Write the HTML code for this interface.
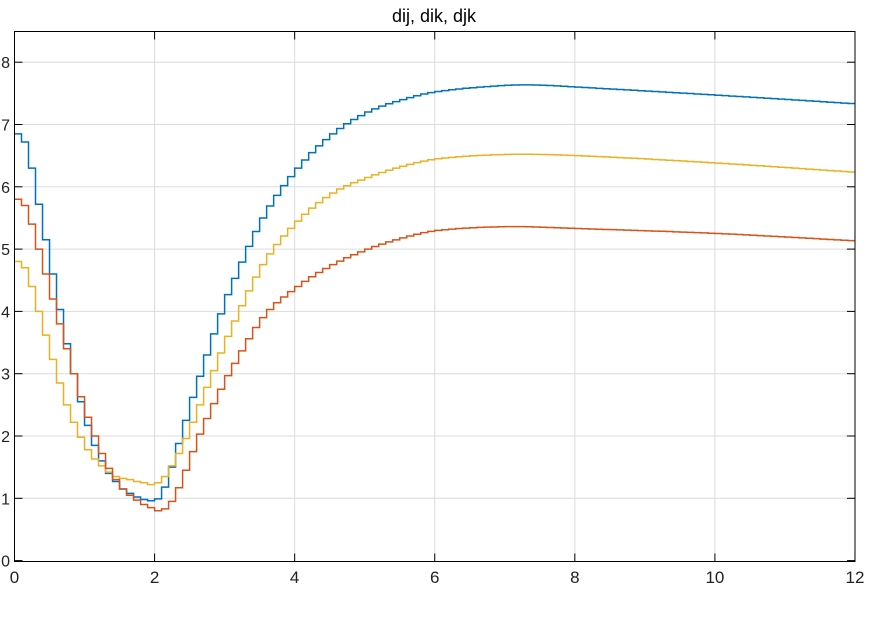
<!DOCTYPE html>
<html><head><meta charset="utf-8"><style>
html,body{margin:0;padding:0;background:#fff;}
svg{display:block;font-family:"Liberation Sans",Arial,sans-serif;}
</style></head><body>
<svg id="s" width="875" height="619" viewBox="0 0 875 619" xmlns="http://www.w3.org/2000/svg">
<rect width="875" height="619" fill="#fff"/>
<g id="grid" stroke="#dcdcdc" stroke-width="1"></g>
<g id="lines" fill="none" stroke-width="1.5"></g>
<rect x="14.5" y="31.5" width="840.5" height="530" fill="none" stroke="#000" stroke-width="1"/>
<g id="ticks" stroke="#000" stroke-width="1"></g>
<g id="labels" font-size="17" fill="#222"></g>
<text x="434" y="22" font-size="18" text-anchor="middle" fill="#000">dij, dik, djk</text>
</svg>
<script>
var X0=14.5,XS=70.04,Y0=560.6,YS=62.3;
function px(t){return X0+t*XS;} function py(v){return Y0-v*YS;}
var g=document.getElementById('grid'),tk=document.getElementById('ticks'),lb=document.getElementById('labels');
var NS='http://www.w3.org/2000/svg';
function el(p,n,a,txt){var e=document.createElementNS(NS,n);for(var k in a)e.setAttribute(k,a[k]);if(txt!=null)e.textContent=txt;p.appendChild(e);return e;}
for(var t=0;t<=12;t+=2){var x=px(t);
 if(t>0&&t<12)el(g,'line',{x1:x,y1:31.5,x2:x,y2:561.5});
 el(tk,'line',{x1:x,y1:561.5,x2:x,y2:553.5});el(tk,'line',{x1:x,y1:31.5,x2:x,y2:39.5});
 el(lb,'text',{x:x,y:583,'text-anchor':'middle'},String(t));}
for(var v=0;v<=8;v++){var y=py(v);
 if(v>0)el(g,'line',{x1:14.5,y1:y,x2:855,y2:y});
 el(tk,'line',{x1:14.5,y1:y,x2:22.5,y2:y});el(tk,'line',{x1:855,y1:y,x2:847,y2:y});
 el(lb,'text',{x:10,y:y+6,'text-anchor':'end','font-size':'16'},String(v));}
var blue=[[0,6.85],[0.1,6.72],[0.2,6.3],[0.3,5.72],[0.4,5.15],[0.5,4.6],[0.6,4.03],[0.7,3.48],[0.8,3.0],[0.9,2.55],[1.0,2.17],[1.1,1.85],[1.2,1.6],[1.3,1.4],[1.4,1.27],[1.5,1.15],[1.6,1.08],[1.7,1.02],[1.8,0.98],[1.9,0.96],[2.0,0.99],[2.1,1.18],[2.2,1.5],[2.3,1.88],[2.4,2.25],[2.5,2.62],[2.6,2.96],[2.7,3.3],[2.8,3.64],[2.9,3.96],[3.0,4.27],[3.5,5.5],[4,6.3],[4.5,6.85],[5,7.2],[5.5,7.4],[6,7.53],[7,7.63],[7.5,7.63],[8,7.6],[10,7.47],[12,7.33]];
var yel=[[0,4.8],[0.1,4.7],[0.2,4.4],[0.3,4.0],[0.4,3.62],[0.5,3.23],[0.6,2.85],[0.7,2.5],[0.8,2.22],[0.9,1.98],[1.0,1.78],[1.1,1.63],[1.2,1.52],[1.3,1.42],[1.4,1.35],[1.5,1.32],[1.6,1.3],[1.7,1.27],[1.8,1.25],[1.9,1.22],[2.0,1.25],[2.1,1.35],[2.2,1.52],[2.3,1.72],[2.4,1.96],[2.5,2.22],[2.6,2.5],[2.7,2.78],[2.8,3.05],[3.0,3.6],[3.5,4.75],[4,5.45],[4.5,5.9],[5,6.15],[5.5,6.33],[6,6.45],[7,6.52],[8,6.5],[10,6.38],[12,6.23]];
var red=[[0,5.8],[0.1,5.7],[0.2,5.4],[0.3,5.0],[0.4,4.6],[0.5,4.2],[0.6,3.8],[0.7,3.4],[0.8,3.0],[0.9,2.63],[1.0,2.3],[1.1,2.0],[1.2,1.72],[1.3,1.48],[1.4,1.3],[1.5,1.15],[1.6,1.05],[1.7,0.97],[1.8,0.9],[1.9,0.85],[2.0,0.8],[2.1,0.83],[2.2,0.95],[2.3,1.17],[2.4,1.45],[2.5,1.75],[2.6,2.03],[2.7,2.28],[2.8,2.52],[2.9,2.75],[3.0,2.97],[3.5,3.9],[4,4.4],[4.5,4.75],[5,5.0],[5.5,5.18],[6,5.3],[7,5.36],[8,5.33],[10,5.25],[12,5.13]];
function interp(d,t){var n=d.length;for(var i=0;i<n-1;i++){if(t<=d[i+1][0]+1e-9){
 var p0=d[Math.max(i-1,0)],p1=d[i],p2=d[i+1],p3=d[Math.min(i+2,n-1)];
 var h=p2[0]-p1[0],s=(t-p1[0])/h;
 var m1=(p2[1]-p0[1])/(p2[0]-p0[0]||1)*h, m2=(p3[1]-p1[1])/(p3[0]-p1[0]||1)*h;
 if(i==0)m1=(p2[1]-p1[1]);if(i+2>=n)m2=(p2[1]-p1[1]);
 var s2=s*s,s3=s2*s;
 return (2*s3-3*s2+1)*p1[1]+(s3-2*s2+s)*m1+(-2*s3+3*s2)*p2[1]+(s3-s2)*m2;}}return d[n-1][1];}
function path(d){var s='',n=120;for(var i=0;i<n;i++){var v=interp(d,i/10);var y=py(v).toFixed(2);
 s+=(i==0?'M':'L')+px(i/10).toFixed(2)+' '+y+' L'+px((i+1)/10).toFixed(2)+' '+y+' ';}return s;}
var L=document.getElementById('lines');
el(L,'path',{d:path(blue),stroke:'#0072BD'});
el(L,'path',{d:path(yel),stroke:'#EDB120'});
el(L,'path',{d:path(red),stroke:'#D95319'});
</script>
</body></html>
